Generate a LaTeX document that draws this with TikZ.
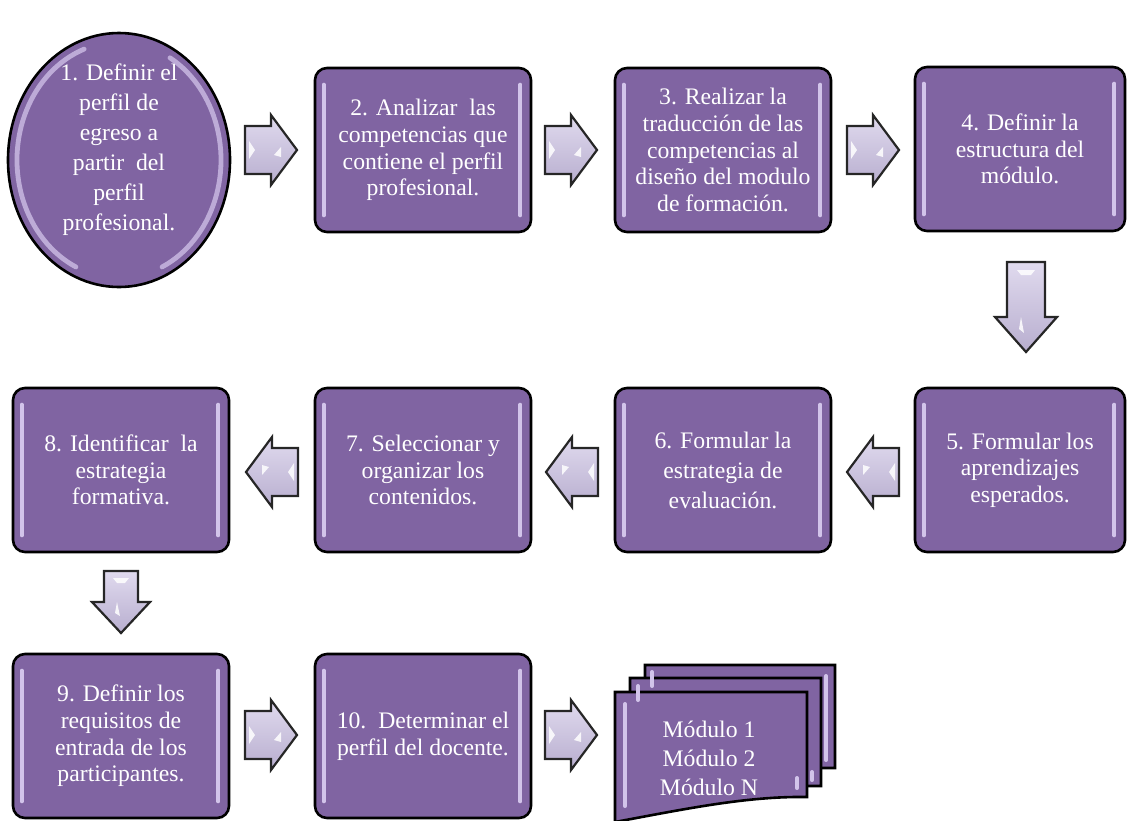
\documentclass[tikz,border=0pt]{standalone}
\usepackage{fontspec}
\setmainfont{Liberation Serif}
\usetikzlibrary{shapes.geometric}

\definecolor{boxpurple}{HTML}{8064A2}
\definecolor{hilite}{HTML}{D2C4EA}
\definecolor{arrowlight}{HTML}{E0DAEE}
\definecolor{arrowdark}{HTML}{B8AECF}

\tikzset{
  txt/.style={text=white, align=center, inner sep=0pt,
    font=\fontsize{11.85}{13.3}\selectfont},
  stepbox/.style={txt, draw=black, line width=1.3pt, fill=boxpurple,
    rounded corners=6pt, minimum width=108pt, minimum height=82pt},
  widebox/.style={stepbox, minimum width=105pt},
  hl/.style={draw=hilite, line width=2pt, line cap=round},
  arrowbody/.style={draw=black!85, line width=1.1pt, line join=miter,
    top color=arrowlight, bottom color=arrowdark},
  glint/.style={fill=white, opacity=0.85},
  docsheet/.style={draw=black, line width=1.3pt, fill=boxpurple, line join=miter},
  % block arrow pointing right (pixel units)
  rarr/.pic={
    \path[arrowbody] (-26,-24) -- (0,-24) -- (0,-35) -- (26,0) -- (0,35)
      -- (0,24) -- (-26,24) -- cycle;
    \fill[glint] (-22,-9) -- (-16,0) -- (-22,9) -- cycle;
    \fill[glint] (3,5) -- (10,-3) -- (10,7) -- cycle;
  },
  % large block arrow pointing down
  darr/.pic={
    \path[arrowbody] (-19,-45) -- (19,-45) -- (19,10) -- (31,10) -- (0,45)
      -- (-31,10) -- (-19,10) -- cycle;
    \fill[glint] (-9,-37) -- (9,-37) -- (5,-32) -- (-5,-32) -- cycle;
    \fill[glint] (-5,10) -- (-2,26) -- (-7,22) -- cycle;
  },
  % small block arrow pointing down
  dsarr/.pic={
    \path[arrowbody] (-17,-31) -- (17,-31) -- (17,0) -- (29,0) -- (0,31)
      -- (-29,0) -- (-17,0) -- cycle;
    \fill[glint] (-8,-24) -- (8,-24) -- (4,-19) -- (-4,-19) -- cycle;
    \fill[glint] (-4,0) -- (-1,14) -- (-6,11) -- cycle;
  },
}

% one sheet of the stacked documents: left x, top y, right x, right-bottom y
\newcommand\docsheet[4]{%
  \draw[docsheet] (#1,#2) -- (#3,#2) -- (#3,#4)
    .. controls ({#3-60},{#4-1}) and ({#1+70},{#4+12}) .. (#1,{#4+25}) -- cycle;}

\begin{document}
\begin{tikzpicture}[x=0.5pt, y=-0.5pt]
\useasboundingbox (0,0) rectangle (1127,820);

% ---- row 1 ----
\node[ellipse, draw=black, line width=1.3pt, fill=boxpurple,
      minimum width=111pt, minimum height=127pt, inner sep=0pt] (e1) at (119,160) {};
\node[txt, font=\fontsize{11.85}{15}\selectfont] (e1text) at (119,150)
  {1. Definir el\\perfil de\\egreso a\\partir\ \ del\\perfil\\profesional.};
\node[stepbox] (b2) at (423,150)
  {2. Analizar\ \ las\\competencias que\\contiene el perfil\\profesional.};
\node[stepbox] (b3) at (723,150)
  {3. Realizar la\\traducción de las\\competencias al\\diseño del modulo\\de formación.};
\node[widebox] (b4) at (1020,149)
  {4. Definir la\\estructura del\\módulo.};

% ---- row 2 ----
\node[widebox] (b5) at (1020,470)
  {5. Formular los\\aprendizajes\\esperados.};
\node[stepbox, font=\fontsize{11.85}{15}\selectfont] (b6) at (723,470)
  {6. Formular la\\estrategia de\\evaluación.};
\node[stepbox] (b7) at (423,470)
  {7. Seleccionar y\\organizar los\\contenidos.};
\node[stepbox] (b8) at (121,470)
  {8. Identificar\ \ la\\estrategia\\formativa.};

% ---- row 3 ----
\node[stepbox] (b9) at (121,736)
  {9. Definir los\\requisitos de\\entrada de los\\participantes.};
\node[stepbox] (b10) at (423,736)
  {10.\ \ Determinar el\\perfil del docente.};

% glossy strips along the box sides
\foreach \n in {b2,b3,b4,b5,b6,b7,b8,b9,b10}{
  \draw[hl] ([xshift=5pt,yshift=-9pt]\n.north west) -- ([xshift=5pt,yshift=9pt]\n.south west);
  \draw[hl] ([xshift=-6pt,yshift=-9pt]\n.north east) -- ([xshift=-6pt,yshift=9pt]\n.south east);
}
% glossy rim of the ellipse
\draw[hl, line width=2.4pt, opacity=0.75] ([shift={(110:51pt and 59pt)}]e1.center)
  arc[start angle=110, end angle=245, x radius=51pt, y radius=59pt];
\draw[hl, line width=2.4pt, opacity=0.75] ([shift={(-65:51pt and 59pt)}]e1.center)
  arc[start angle=-65, end angle=60, x radius=51pt, y radius=59pt];

% ---- stacked documents ----
\docsheet{645}{665}{835}{768}
\docsheet{630}{678}{821}{786}
\docsheet{615}{692}{807}{797}
\node[txt, font=\fontsize{11.85}{14.5}\selectfont] (mods) at (709,758)
  {Módulo 1\\Módulo 2\\Módulo N};
\draw[hl] (625,704) -- (625,806);
\draw[hl] (652,672) -- (652,686);
\draw[hl] (638,686) -- (638,700);
\draw[hl] (826,676) -- (826,760);
\draw[hl] (812,772) -- (812,780);
\draw[hl] (797,778) -- (797,788);

% ---- block arrows between the steps ----
\pic at (271,150) {rarr};
\pic at (571,150) {rarr};
\pic at (873,150) {rarr};
\pic at (1026,307) {darr};
\pic[rotate=180] at (873,472) {rarr};
\pic[rotate=180] at (572,472) {rarr};
\pic[rotate=180] at (272,472) {rarr};
\pic at (121,602) {dsarr};
\pic at (271,735) {rarr};
\pic at (571,735) {rarr};
\end{tikzpicture}
\end{document}
